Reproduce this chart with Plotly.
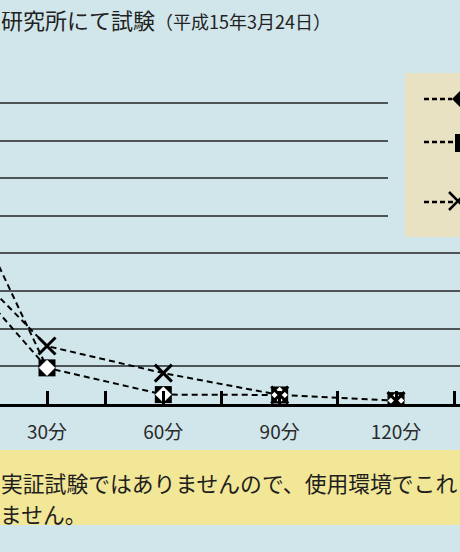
import plotly.graph_objects as go

# ---- data ----
minutes = [0, 30, 60, 90, 120]
series_diamond = [7.5, 0.96, 0.25, 0.24, 0.09]
series_square = [4.5, 0.96, 0.25, 0.24, 0.09]
series_cross = [4.7, 1.54, 0.82, 0.24, 0.09]

tick_vals = [15, 30, 45, 60, 75, 90, 105, 120, 135]
tick_text = ["", "30分", "", "60分", "", "90分", "", "120分", ""]

title_main = "研究所にて試験"
title_date = "（平成15年3月24日）"
note_line1 = "実証試験ではありませんので、使用環境でこれ"
note_line2 = "ません。"

# ---- layout geometry (pixels) ----
W, H = 460, 552
TOP, BOTTOM = 101, 404          # plot area top / x-axis position
PH = BOTTOM - TOP
BG = "#d0e6ea"
JP = "Noto Sans CJK JP"


def px(x):
    return x / W


def py(y):
    return (BOTTOM - y) / PH


# where series coincide, draw the dashed line only once (keeps dashes readable)
square_line = [v if m <= 30 else None for m, v in zip(minutes, series_square)]
cross_line = [v if m <= 90 else None for m, v in zip(minutes, series_cross)]

dash = "6px,4px"
LINE = dict(color="black", width=2, dash=dash)

fig = go.Figure()
fig.add_trace(go.Scatter(x=minutes, y=square_line, mode="lines", line=LINE,
                         showlegend=False, hoverinfo="skip"))
fig.add_trace(go.Scatter(x=minutes, y=series_diamond, mode="lines", line=LINE,
                         showlegend=False, hoverinfo="skip"))
fig.add_trace(go.Scatter(x=minutes, y=cross_line, mode="lines", line=LINE,
                         showlegend=False, hoverinfo="skip"))
fig.add_trace(go.Scatter(x=minutes, y=series_square, mode="markers",
                         marker=dict(symbol="square", size=17, color="black"),
                         showlegend=False))
fig.add_trace(go.Scatter(x=minutes, y=series_diamond, mode="markers",
                         marker=dict(symbol="diamond", size=13, color="white",
                                     line=dict(color="black", width=0.5)),
                         showlegend=False))
fig.add_trace(go.Scatter(x=minutes, y=series_cross, mode="markers",
                         marker=dict(symbol="x-thin", size=17,
                                     line=dict(color="black", width=3)),
                         showlegend=False))

shapes = []
# yellow note band
shapes.append(dict(type="rect", xref="paper", yref="paper", layer="below",
                   x0=px(-5), x1=px(W + 5), y0=py(450), y1=py(525),
                   fillcolor="#f2e697", line=dict(width=0)))
# cover grid lines behind legend area
shapes.append(dict(type="rect", xref="paper", yref="paper", layer="above",
                   x0=px(388), x1=px(W + 5), y0=py(240), y1=py(70),
                   fillcolor=BG, line=dict(width=0)))
# legend box
shapes.append(dict(type="rect", xref="paper", yref="paper", layer="above",
                   x0=px(405), x1=px(W + 20), y0=py(237), y1=py(73),
                   fillcolor="#e8e1c2", line=dict(width=0)))
# legend samples
for yy, x1 in [(99, 452), (142, 455), (202, 453)]:
    shapes.append(dict(type="line", xref="paper", yref="paper", layer="above",
                       x0=px(424), x1=px(x1), y0=py(yy), y1=py(yy),
                       line=dict(color="black", width=2.5, dash="5px,3px")))
# diamond sample
cx, cy, r = 464, 99, 12
shapes.append(dict(type="path", xref="paper", yref="paper", layer="above",
                   path=f"M {px(cx - r)} {py(cy)} L {px(cx)} {py(cy - r)} L {px(cx + r)} {py(cy)} L {px(cx)} {py(cy + r)} Z",
                   fillcolor="black", line=dict(width=0)))
# square sample
shapes.append(dict(type="rect", xref="paper", yref="paper", layer="above",
                   x0=px(455), x1=px(473), y0=py(152), y1=py(134),
                   fillcolor="black", line=dict(width=0)))
# cross sample
cx, cy, r = 458, 201, 9
shapes.append(dict(type="line", xref="paper", yref="paper", layer="above",
                   x0=px(cx - r), x1=px(cx + r), y0=py(cy - r), y1=py(cy + r),
                   line=dict(color="black", width=2.5)))
shapes.append(dict(type="line", xref="paper", yref="paper", layer="above",
                   x0=px(cx - r), x1=px(cx + r), y0=py(cy + r), y1=py(cy - r),
                   line=dict(color="black", width=2.5)))

annotations = [
    dict(xref="paper", yref="paper", x=px(-1), y=py(19), xanchor="left", yanchor="middle",
         showarrow=False, align="left",
         text=f"{title_main}<span style='font-size:18px'>{title_date}</span>",
         font=dict(family=JP, size=22, color="#222222")),
    dict(xref="paper", yref="paper", x=px(-1), y=py(482), xanchor="left", yanchor="middle",
         showarrow=False, align="left", text=note_line1,
         font=dict(family=JP, size=21.8, color="#1e1e1e")),
    dict(xref="paper", yref="paper", x=px(-2), y=py(513), xanchor="left", yanchor="middle",
         showarrow=False, align="left", text=note_line2,
         font=dict(family=JP, size=21.8, color="#1e1e1e")),
]

x0 = 30 - 47 / (349 / 90)
x1 = x0 + W / (349 / 90)

fig.update_layout(
    width=W, height=H,
    margin=dict(l=0, r=0, t=TOP, b=H - BOTTOM, pad=0),
    paper_bgcolor=BG, plot_bgcolor=BG,
    shapes=shapes, annotations=annotations,
    xaxis=dict(range=[x0, x1], tickvals=tick_vals, ticktext=tick_text,
               ticks="inside", ticklen=13, tickwidth=2.5, tickcolor="black",
               showline=True, linecolor="black", linewidth=3,
               showgrid=False, zeroline=False, ticklabelstandoff=9,
               tickfont=dict(family=JP, size=19, color="#2a2a2a")),
    yaxis=dict(range=[0, 8.05], dtick=1, showgrid=True, gridcolor="#4d5557",
               gridwidth=1.6, zeroline=False, showticklabels=False,
               showline=False, ticks=""),
)

fig.write_html(
    "out.html",
    config={"displayModeBar": False},
    post_script="document.body.style.margin='0';document.body.style.overflow='hidden';"
                "document.documentElement.style.overflow='hidden';",
)
